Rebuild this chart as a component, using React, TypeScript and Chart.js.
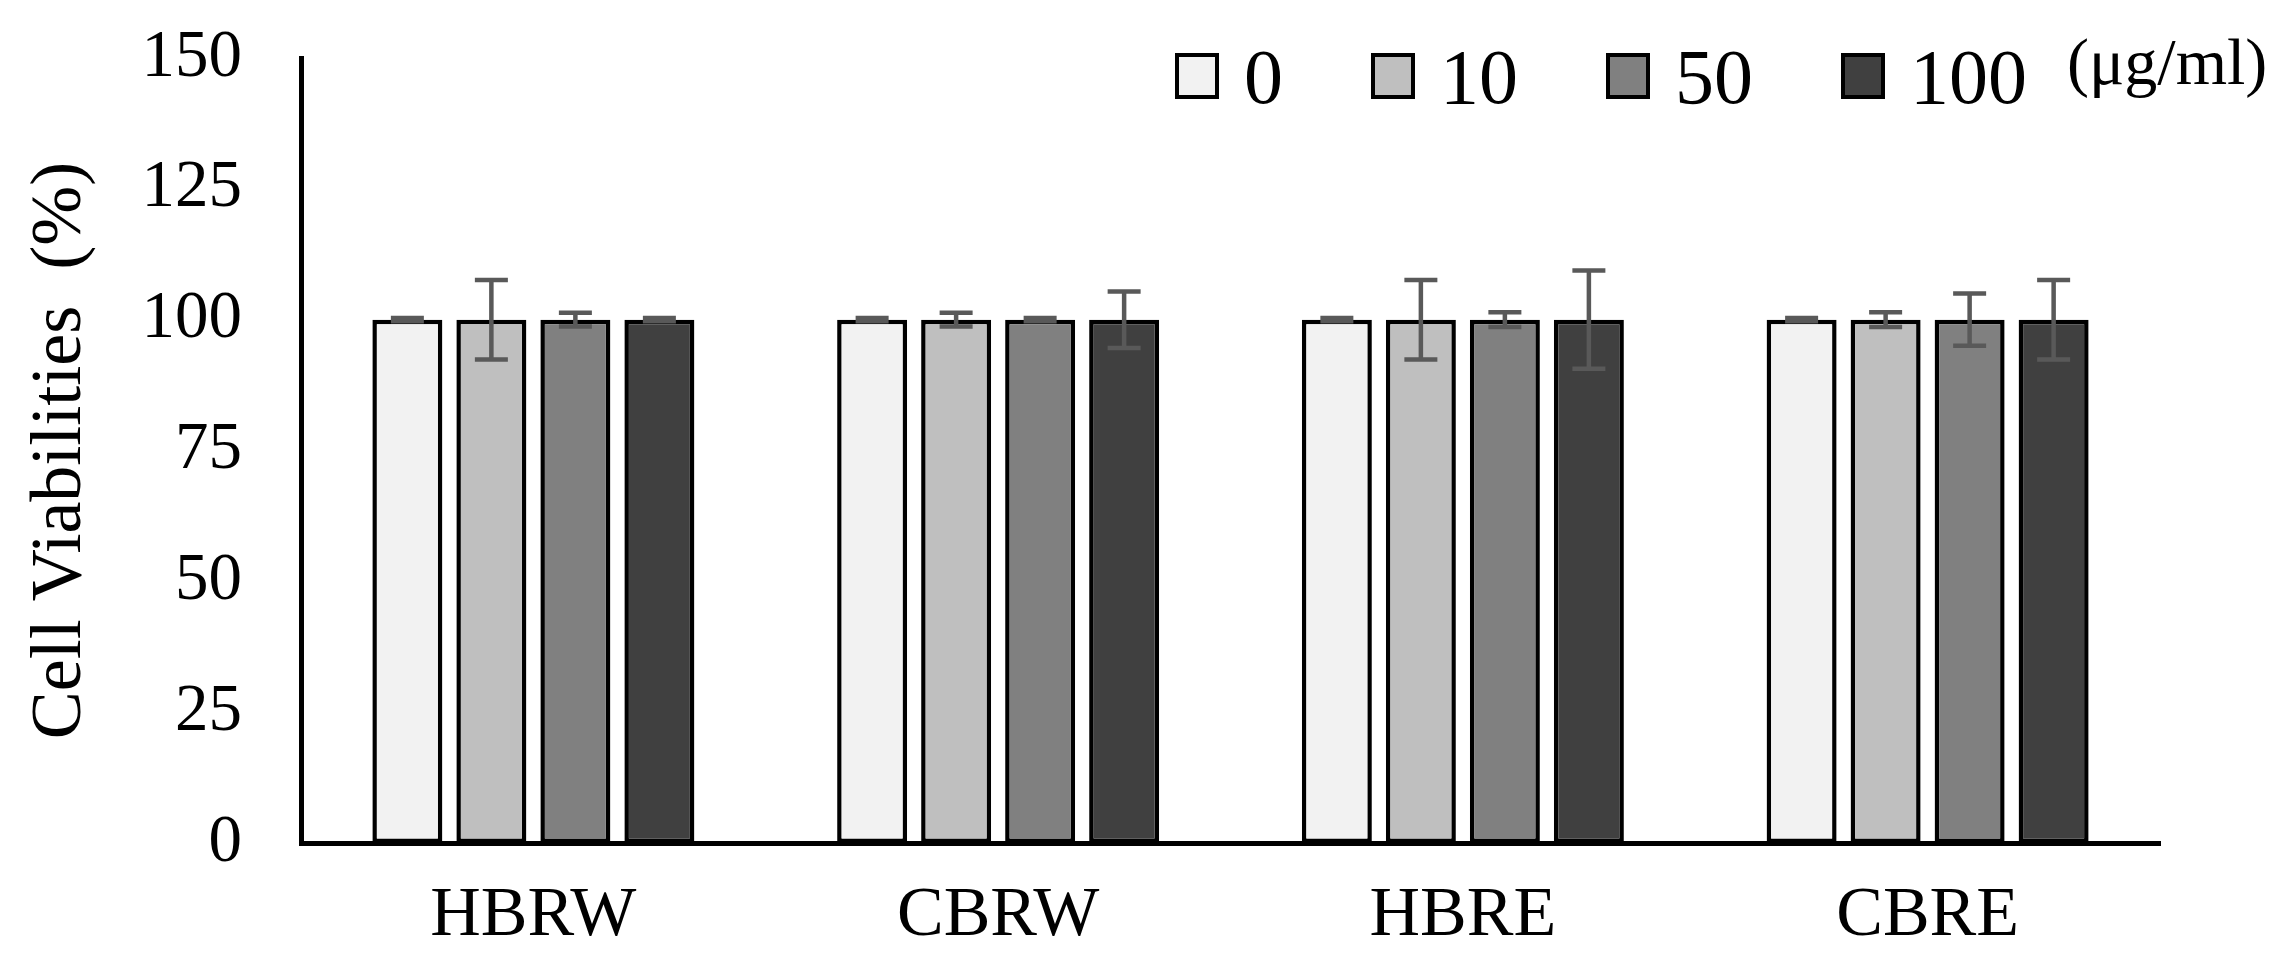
import React, { useEffect, useRef } from 'react';
import { Chart, registerables } from 'chart.js';

Chart.register(...registerables);

const categories = ['HBRW', 'CBRW', 'HBRE', 'CBRE'];
const seriesLabels = ['0', '10', '50', '100'];
const unitLabel = '(μg/ml)';
const values0 = [100, 100, 100, 100];
const values10 = [100, 100, 100, 100];
const values50 = [100, 100, 100, 100];
const values100 = [100, 100, 100, 100];
const sd0 = [0.3, 0.3, 0.3, 0.3];
const sd10 = [7.6, 1.3, 7.6, 1.4];
const sd50 = [1.3, 0.3, 1.4, 5.0];
const sd100 = [0.3, 5.4, 9.4, 7.6];
const yTicks = [0, 25, 50, 75, 100, 125, 150];
const yTitle = 'Cell Viabilities  (%)';

const colors = ['#F2F2F2', '#BFBFBF', '#808080', '#404040'];
const FONT = "'Liberation Serif', 'Times New Roman', serif";

const errorBarPlugin = {
  id: 'errorBars',
  afterDatasetsDraw(chart: any) {
    const ctx = chart.ctx;
    const yScale = chart.scales.y;
    chart.data.datasets.forEach((ds: any, i: number) => {
      const meta = chart.getDatasetMeta(i);
      meta.data.forEach((bar: any, j: number) => {
        const v = ds.data[j];
        const e = ds.errors[j];
        const x = bar.x;
        const yt = yScale.getPixelForValue(v + e);
        const yb = yScale.getPixelForValue(v - e);
        const cap = 16.5;
        ctx.save();
        ctx.strokeStyle = '#595959';
        ctx.lineWidth = 4.5;
        ctx.beginPath();
        ctx.moveTo(x, yt);
        ctx.lineTo(x, yb);
        ctx.moveTo(x - cap, yt);
        ctx.lineTo(x + cap, yt);
        ctx.moveTo(x - cap, yb);
        ctx.lineTo(x + cap, yb);
        ctx.stroke();
        ctx.restore();
      });
    });
  },
};

const legendPlugin = {
  id: 'customLegend',
  afterDraw(chart: any) {
    const ctx = chart.ctx;
    const area = chart.chartArea;
    const boxW = 44;
    const boxH = 46;
    const gapBoxText = 25;
    const gapItems = 88;
    let x = area.right - 985;
    const boxTop = area.top - 5;
    const baseline = area.top + 45;
    ctx.save();
    ctx.font = `78px ${FONT}`;
    ctx.textBaseline = 'alphabetic';
    ctx.textAlign = 'left';
    chart.data.datasets.forEach((ds: any) => {
      ctx.fillStyle = ds.backgroundColor;
      ctx.fillRect(x + 2, boxTop + 2, boxW - 4, boxH - 4);
      ctx.strokeStyle = '#000';
      ctx.lineWidth = 4;
      ctx.strokeRect(x + 2, boxTop + 2, boxW - 4, boxH - 4);
      x += boxW + gapBoxText;
      ctx.fillStyle = '#000';
      ctx.fillText(ds.label, x, baseline);
      x += ctx.measureText(ds.label).width + gapItems;
    });
    x -= gapItems - 40;
    ctx.font = `66px ${FONT}`;
    ctx.fillStyle = '#000';
    ctx.fillText(unitLabel, x, area.top + 26);
    ctx.restore();
  },
};

export default function App() {
  const canvasRef = useRef<HTMLCanvasElement | null>(null);

  useEffect(() => {
    document.body.style.margin = '0';
    const canvas = canvasRef.current;
    if (!canvas) return;
    const seriesValues = [values0, values10, values50, values100];
    const seriesErrors = [sd0, sd10, sd50, sd100];
    const chart = new Chart(canvas, {
      type: 'bar',
      data: {
        labels: categories,
        datasets: seriesLabels.map((label, i) => ({
          label,
          data: seriesValues[i],
          errors: seriesErrors[i],
          backgroundColor: colors[i],
          borderColor: '#000',
          borderWidth: 4.5,
          borderSkipped: false,
          categoryPercentage: 0.723,
          barPercentage: 0.833,
        })) as any,
      },
      options: {
        responsive: false,
        animation: false,
        devicePixelRatio: 1,
        layout: { padding: { left: 10, top: 58, right: 133, bottom: 0 } },
        plugins: {
          legend: { display: false },
          tooltip: { enabled: false },
        },
        scales: {
          x: {
            grid: { display: false, drawTicks: false },
            border: { display: true, color: '#000', width: 5 },
            ticks: {
              color: '#000',
              font: { family: FONT, size: 70 },
              padding: 32,
            },
            afterFit: (s: any) => {
              s.height = 135;
              s.paddingLeft = 0;
              s.paddingRight = 0;
            },
          },
          y: {
            min: 0,
            max: 150,
            grid: { display: false, drawTicks: false },
            border: { display: true, color: '#000', width: 5 },
            ticks: {
              color: '#000',
              font: { family: FONT, size: 67 },
              padding: 59,
            },
            afterBuildTicks: (s: any) => {
              s.ticks = yTicks.map((v) => ({ value: v }));
            },
            title: {
              display: true,
              text: yTitle,
              color: '#000',
              font: { family: FONT, size: 72 },
              padding: { top: 8, bottom: 0 },
            },
            afterFit: (s: any) => {
              s.width = 291;
              s.paddingTop = 0;
              s.paddingBottom = 0;
            },
          },
        },
      },
      plugins: [errorBarPlugin, legendPlugin],
    });
    return () => chart.destroy();
  }, []);

  return (
    <div style={{ width: 2293, height: 978 }}>
      <canvas ref={canvasRef} width={2293} height={978} style={{ display: 'block' }} />
    </div>
  );
}
